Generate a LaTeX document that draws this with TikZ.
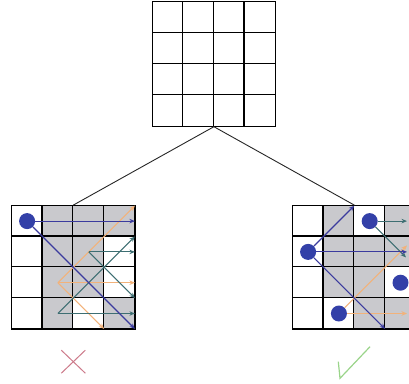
\documentclass[tikz,border=0pt]{standalone}
\usepackage{tikz}
\usetikzlibrary{arrows.meta,calc,backgrounds}

\definecolor{cellgray}{HTML}{C9C9CD}
\definecolor{qblue}{HTML}{3340A8}
\definecolor{lineblue}{HTML}{3B3B9E}
\definecolor{lineteal}{HTML}{3D6E72}
\definecolor{lineorange}{HTML}{F2B27A}
\definecolor{badred}{HTML}{CC7A8A}
\definecolor{goodgreen}{HTML}{9AD48A}

\begin{document}
\begin{tikzpicture}[
    x=1pt, y=-1pt,
    board/.style={rectangle, draw, line width=1.2pt, minimum width=123.2pt, minimum height=123.2pt, inner sep=0pt},
    cellline/.style={line width=1.2pt},
    queen/.style={circle, fill=qblue, minimum size=16pt, inner sep=0pt},
    arrow/.style={-{Stealth[length=5.5pt,width=4.5pt]}, line width=1.1pt},
    link/.style={line width=0.9pt, draw=black!85}
]
\useasboundingbox (0,0) rectangle (409,383);
\clip (0,0) rectangle (409,383);

% Boards
\node[board, minimum width=122.4pt, minimum height=124.4pt] (top) at (213.9,63.9) {};
\node[board] (lb) at (73.3,267.3) {};
\node[board] (rb) at (354.3,267.3) {};

% Shaded cells
\begin{scope}[on background layer]
\foreach \c/\r in {1/0,2/0,3/0,1/1,2/1,1/2,2/2,1/3,3/3}
    \fill[cellgray] ($(lb.north west)+(\c*30.8,\r*30.8)$) rectangle +(30.8,30.8);
\foreach \c/\r in {1/0,3/0,1/1,2/1,3/1,1/2,2/2,2/3,3/3}
    \fill[cellgray] ($(rb.north west)+(\c*30.8,\r*30.8)$) rectangle +(30.8,30.8);
\end{scope}

% Cell lines
\foreach \i in {1,2,3} {
    \draw[cellline] ($(top.north west)+(\i*30.6,0)$) -- ($(top.south west)+(\i*30.6,0)$);
    \draw[cellline] ($(top.north west)+(0,\i*31.1)$) -- ($(top.north east)+(0,\i*31.1)$);
}
\foreach \b in {lb,rb}
    \foreach \i in {1,2,3} {
        \draw[cellline] ($(\b.north west)+(\i*30.8,0)$) -- ($(\b.south west)+(\i*30.8,0)$);
        \draw[cellline] ($(\b.north west)+(0,\i*30.8)$) -- ($(\b.north east)+(0,\i*30.8)$);
    }

% Links
\draw[link] (top.south) -- (lb.north);
\draw[link] (top.south) -- (rb.north);

% Left board
\coordinate (o1) at (57.9,282.7);
\coordinate (t1) at (88.7,251.9);
\coordinate (t2) at (57.9,313.5);
\coordinate (e1) at (134.9,221.1);
\coordinate (e2) at (134.9,328.9);
\coordinate (e3) at (134.9,205.7);
\coordinate (e4) at (134.9,282.7);
\coordinate (e5) at (104.1,328.9);
\coordinate (e6) at (134.9,251.9);
\coordinate (e7) at (134.9,298.1);
\coordinate (e8) at (134.9,313.5);
\coordinate (e9) at (134.9,236.5);

\draw[arrow, lineorange] (o1) -- (e3);
\draw[arrow, lineorange] (o1) -- (e4);
\draw[arrow, lineorange] (o1) -- (e5);
\draw[arrow, lineteal] (t1) -- (e6);
\draw[arrow, lineteal] (t1) -- (e7);
\draw[arrow, lineteal] (t2) -- (e8);
\draw[arrow, lineteal] (t2) -- (e9);

\node[queen] (q1) at (27.1,221.1) {};
\draw[arrow, lineblue] (q1) -- (e1);
\draw[arrow, lineblue] (q1) -- (e2);

% Right board
\node[queen] (q2) at (369.7,221.1) {};
\node[queen] (q3) at (308.1,251.9) {};
\node[queen] (q4) at (400.5,282.7) {};
\node[queen] (q5) at (338.9,313.5) {};

\coordinate (f1) at (354.3,205.7);
\coordinate (f2) at (407,251.9);
\coordinate (f3) at (385.1,328.9);
\coordinate (f4) at (407,221.1);
\coordinate (f5) at (406,257.4);
\coordinate (f6) at (407,313.5);
\coordinate (f7) at (407,245.4);

\draw[arrow, lineorange] (q5) -- (f6);
\draw[arrow, lineorange] (q5) -- (f7);
\draw[arrow, lineteal] (q2) -- (f4);
\draw[arrow, lineteal] (q2) -- (f5);
\draw[arrow, lineblue] (q3) -- (f1);
\draw[arrow, lineblue] (q3) -- (f2);
\draw[arrow, lineblue] (q3) -- (f3);

% Marks
\coordinate (bad) at (73.3,361.7);
\coordinate (good) at (340,378.3);
\draw[badred, line width=1pt] ($(bad)+(-12,-11.5)$) -- ($(bad)+(12,11.5)$);
\draw[badred, line width=1pt] ($(bad)+(12,-11.5)$) -- ($(bad)+(-12,11.5)$);
\draw[goodgreen, line width=1.2pt] ($(good)+(-1.7,-16.6)$) -- (good) -- ($(good)+(30,-31.6)$);
\end{tikzpicture}
\end{document}
